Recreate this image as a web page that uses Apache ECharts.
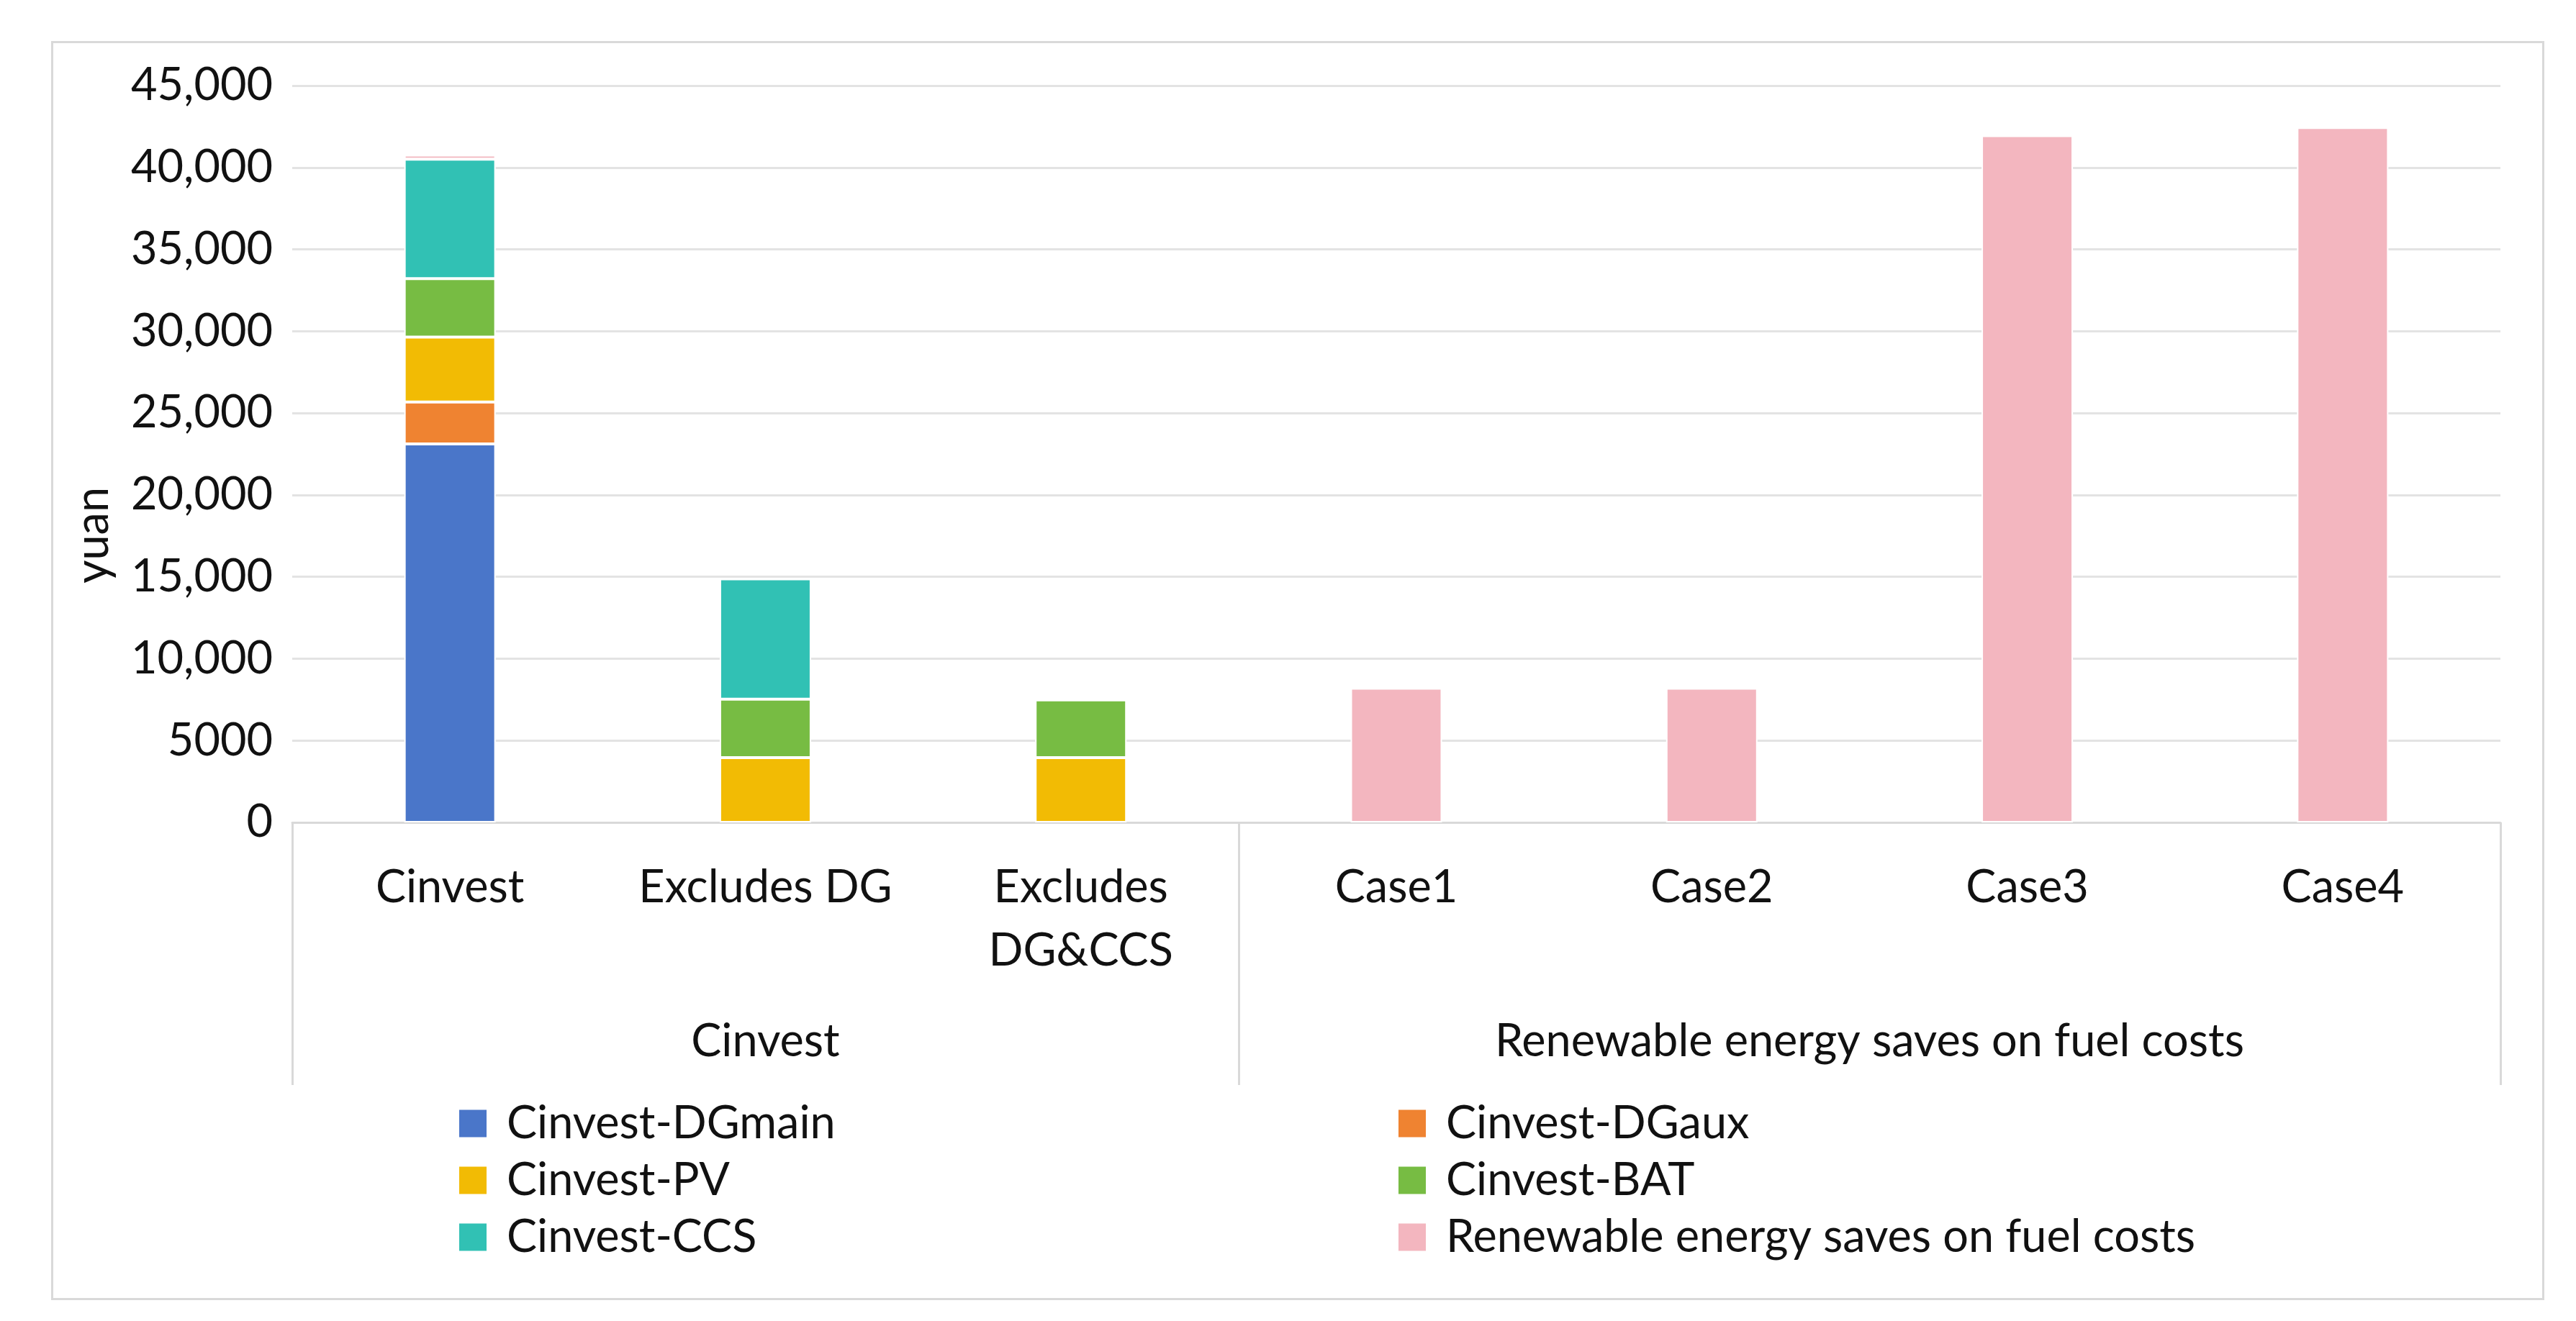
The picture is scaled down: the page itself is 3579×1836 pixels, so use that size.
<!DOCTYPE html>
<html><head><meta charset="utf-8">
<script src="https://cdn.jsdelivr.net/npm/echarts@6/dist/echarts.min.js"></script>
<style>html,body{margin:0;padding:0;background:#fff}#c{width:3579px;height:1836px}</style>
</head><body><div id="c"></div>
<script>
// ---- data ----
const categories = ['Cinvest', 'Excludes DG', 'Excludes DG&CCS', 'Case1', 'Case2', 'Case3', 'Case4'];
const groupLabels = ['Cinvest', 'Renewable energy saves on fuel costs'];
const groupSpans = [3, 4];
const yTickValues = [0, 5000, 10000, 15000, 20000, 25000, 30000, 35000, 40000, 45000];
const seriesNames = ['Cinvest-DGmain', 'Cinvest-DGaux', 'Cinvest-PV', 'Cinvest-BAT', 'Cinvest-CCS', 'Renewable energy saves on fuel costs'];
const dgMain    = [23120, null, null, null, null, null, null];
const dgAux     = [2550, null, null, null, null, null, null];
const pv        = [3970, 3960, 3960, null, null, null, null];
const bat       = [3570, 3570, 3520, null, null, null, null];
const ccs       = [7300, 7350, null, null, null, null, null];
const renewable = [250, null, null, 8200, 8200, 41950, 42440];

// ---- styles ----
const colors = ['#4a76c9', '#ef8331', '#f2bb04', '#77bc43', '#31c1b4', '#f3b6bf'];
const FONT = 'Lato';
const FS = 63;
const TXT = '#111';

const seriesData = [dgMain, dgAux, pv, bat, ccs, renewable];

// group boundaries / centers
const groupStarts = [];
const groupCenters = [];
let acc = 0;
groupSpans.forEach(s => { groupStarts.push(acc); groupCenters.push(acc + s / 2); acc += s; });

function fmtY(v) {
  if (v < 10000) return String(v);
  return v.toLocaleString('en-US');
}

const legendCommon = {
  orient: 'vertical', top: 1525,
  icon: 'rect', itemWidth: 40, itemHeight: 40, itemGap: 16,
  textStyle: {fontFamily: FONT, fontSize: FS, color: TXT, lineHeight: 40, padding: [0, 0, 0, 22]}
};

const chart = echarts.init(document.getElementById('c'), null, {renderer: 'canvas'});
chart.setOption({
  backgroundColor: '#fff',
  animation: false,
  color: colors,
  textStyle: {fontFamily: FONT},
  graphic: [{
    type: 'rect', left: 70, top: 56, silent: true,
    shape: {width: 3461, height: 1747},
    style: {fill: 'none', stroke: '#d9d9d9', lineWidth: 3}
  }],
  grid: {left: 406, right: 105, top: 119, bottom: 693, containLabel: false},
  legend: [
    Object.assign({left: 631, data: [seriesNames[0], seriesNames[2], seriesNames[4]]}, legendCommon),
    Object.assign({left: 1936, data: [seriesNames[1], seriesNames[3], seriesNames[5]]}, legendCommon)
  ],
  xAxis: [
    {
      type: 'category', data: categories, position: 'bottom',
      axisLine: {show: true, lineStyle: {color: '#d9d9d9', width: 3}},
      axisTick: {
        show: true, length: 365,
        interval: (i) => groupStarts.indexOf(i) >= 0,
        lineStyle: {color: '#d9d9d9', width: 3}
      },
      axisLabel: {
        interval: 0, margin: 47, fontFamily: FONT, fontSize: FS, color: TXT, lineHeight: 88,
        formatter: (v) => v.replace(' DG&CCS', '\nDG&CCS')
      },
      splitLine: {show: false}
    },
    {
      type: 'value', min: 0, max: acc, interval: 0.5, position: 'bottom',
      axisLine: {show: false}, axisTick: {show: false}, splitLine: {show: false},
      axisLabel: {
        margin: 273, fontFamily: FONT, fontSize: FS, color: TXT, lineHeight: 63,
        showMinLabel: true, showMaxLabel: true,
        formatter: (v) => { const k = groupCenters.indexOf(v); return k >= 0 ? groupLabels[k] : ''; }
      }
    }
  ],
  yAxis: {
    type: 'value', min: yTickValues[0], max: yTickValues[yTickValues.length - 1],
    interval: yTickValues[1] - yTickValues[0],
    name: 'yuan', nameLocation: 'middle', nameRotate: 90, nameGap: 245,
    nameTextStyle: {fontFamily: FONT, fontSize: FS, color: TXT, padding: [0, 226, 0, 0]},
    axisLine: {show: false}, axisTick: {show: false},
    axisLabel: {margin: 27, fontFamily: FONT, fontSize: FS, color: TXT, formatter: fmtY},
    splitLine: {lineStyle: {color: '#e3e3e3', width: 3}}
  },
  series: seriesNames.map((n, i) => ({
    name: n, type: 'bar', stack: 'total', xAxisIndex: 0,
    barWidth: 127,
    itemStyle: {color: colors[i], borderColor: '#fff', borderWidth: 2},
    data: seriesData[i]
  }))
});
</script>
</body></html>
